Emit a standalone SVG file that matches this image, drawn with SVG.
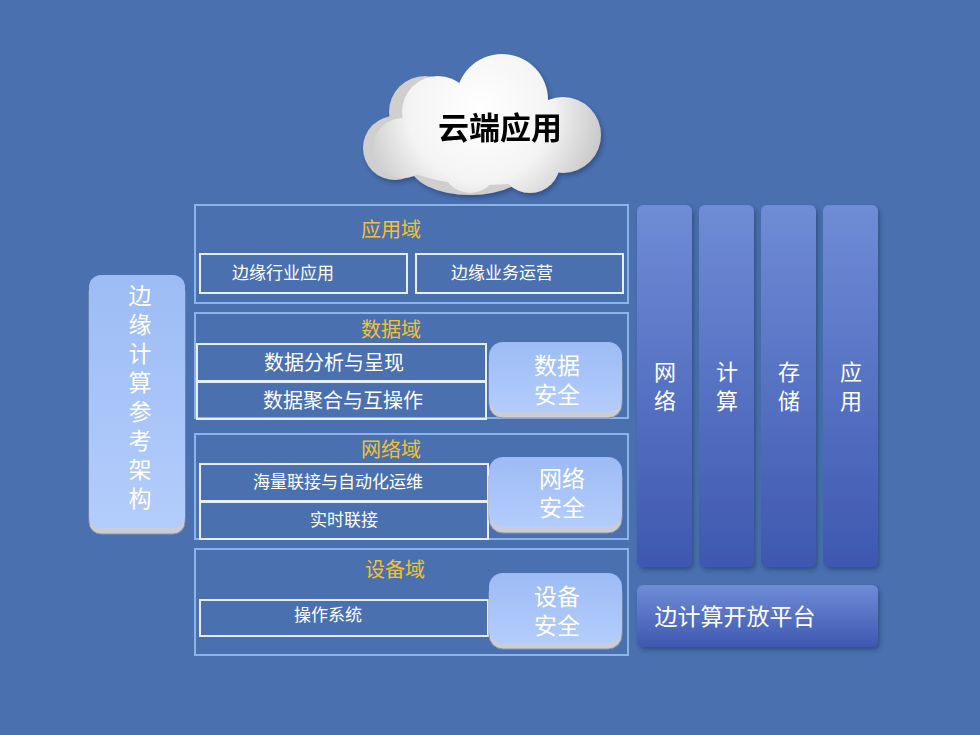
<svg xmlns="http://www.w3.org/2000/svg" width="980" height="735" viewBox="0 0 980 735">
<defs>
<linearGradient id="col" x1="0" y1="0" x2="0" y2="1"><stop offset="0" stop-color="#6F8CD6"/><stop offset="1" stop-color="#3E58B0"/></linearGradient>
<linearGradient id="pill" x1="0" y1="0" x2="0" y2="1"><stop offset="0" stop-color="#9DBCF5"/><stop offset="1" stop-color="#B3CCFB"/></linearGradient>
<radialGradient id="cl" gradientUnits="userSpaceOnUse" cx="480" cy="110" r="130"><stop offset="0" stop-color="#FFFFFF"/><stop offset="0.55" stop-color="#F4F4F4"/><stop offset="1" stop-color="#C4C4C4"/></radialGradient>
<filter id="sh" x="-10%" y="-10%" width="130%" height="130%"><feDropShadow dx="2" dy="3" stdDeviation="2" flood-color="#1D2F60" flood-opacity="0.5"/></filter>
</defs>
<style>
.frame{fill:none;stroke:#8AB4EA;stroke-width:2}
.box{fill:none;stroke:#E6EEFA;stroke-width:2}
.ttl{font-family:"Noto Sans CJK SC",sans-serif;font-size:20px;fill:#F5C030;text-anchor:middle}
.t{font-family:"Noto Sans CJK SC",sans-serif;fill:#FFFFFF;text-anchor:middle}
.pt{font-family:"Noto Sans CJK SC",sans-serif;font-size:23px;fill:#FFFFFF;text-anchor:middle}
.base{fill:#C8CDD8;stroke:#8A93A8;stroke-width:1}
</style>
<rect width="980" height="735" fill="#4A70B0"/>
<g id="cloud" filter="url(#sh)">
<g fill="#CFCFCF">
<circle cx="395" cy="148" r="32"/><circle cx="425" cy="112" r="36"/><ellipse cx="470" cy="165" rx="60" ry="30"/>
</g>
<g fill="url(#cl)">
<circle cx="403" cy="148" r="30"/><circle cx="438" cy="112" r="36"/><circle cx="502" cy="100" r="46"/><circle cx="563" cy="135" r="38"/>
<ellipse cx="485" cy="145" rx="100" ry="40"/><circle cx="470" cy="165" r="28"/><circle cx="530" cy="163" r="30"/>
</g>
<text x="500" y="139" font-family="Noto Sans CJK SC,sans-serif" font-size="31" font-weight="bold" fill="#000" text-anchor="middle">云端应用</text>
</g>
<g id="left">
<rect x="89" y="280" width="96" height="254" rx="12" class="base"/>
<rect x="89" y="275" width="96" height="253" rx="12" fill="url(#pill)"/>
<text class="t" font-size="23"><tspan x="140" y="304">边</tspan><tspan x="140" y="333">缘</tspan><tspan x="140" y="362">计</tspan><tspan x="140" y="391">算</tspan><tspan x="140" y="420">参</tspan><tspan x="140" y="449">考</tspan><tspan x="140" y="478">架</tspan><tspan x="140" y="507">构</tspan></text>
</g>
<g id="app">
<rect x="195" y="205" width="433" height="98" class="frame"/>
<text x="391" y="237" class="ttl">应用域</text>
<rect x="200" y="254" width="207" height="39" class="box"/><text x="283" y="279" class="t" font-size="17">边缘行业应用</text>
<rect x="416" y="254" width="207" height="39" class="box"/><text x="502" y="279" class="t" font-size="17">边缘业务运营</text>
</g>
<g id="data">
<rect x="195" y="313" width="433" height="105" class="frame"/>
<text x="391" y="337" class="ttl">数据域</text>
<rect x="197" y="344" width="289" height="37" class="box"/><text x="334" y="370" class="t" font-size="20">数据分析与呈现</text>
<rect x="197" y="382" width="289" height="37" class="box"/><text x="343" y="408" class="t" font-size="20">数据聚合与互操作</text>
<rect x="489" y="348" width="133" height="70" rx="14" class="base"/>
<rect x="489" y="342" width="133" height="70" rx="14" fill="url(#pill)"/>
<text class="pt"><tspan x="557" y="374">数据</tspan><tspan x="557" y="403">安全</tspan></text>
</g>
<g id="net">
<rect x="195" y="434" width="433" height="105" class="frame"/>
<text x="391" y="457" class="ttl">网络域</text>
<rect x="200" y="464" width="288" height="37" class="box"/><text x="338" y="488" class="t" font-size="17">海量联接与自动化运维</text>
<rect x="200" y="502" width="288" height="37" class="box"/><text x="344" y="526" class="t" font-size="17">实时联接</text>
<rect x="489" y="463" width="133" height="70" rx="14" class="base"/>
<rect x="489" y="457" width="133" height="70" rx="14" fill="url(#pill)"/>
<text class="pt"><tspan x="562" y="487">网络</tspan><tspan x="562" y="516">安全</tspan></text>
</g>
<g id="dev">
<rect x="195" y="549" width="433" height="106" class="frame"/>
<text x="395" y="577" class="ttl">设备域</text>
<rect x="200" y="600" width="288" height="36" class="box"/><text x="328" y="621" class="t" font-size="17">操作系统</text>
<rect x="489" y="579" width="133" height="70" rx="14" class="base"/>
<rect x="489" y="573" width="133" height="70" rx="14" fill="url(#pill)"/>
<text class="pt"><tspan x="557" y="605">设备</tspan><tspan x="557" y="634">安全</tspan></text>
</g>
<g id="cols" filter="url(#sh)">
<rect x="637" y="205" width="55" height="362" rx="6" fill="url(#col)"/>
<rect x="699" y="205" width="55" height="362" rx="6" fill="url(#col)"/>
<rect x="761" y="205" width="55" height="362" rx="6" fill="url(#col)"/>
<rect x="823" y="205" width="55" height="362" rx="6" fill="url(#col)"/>
<rect x="637" y="585" width="241" height="62" rx="6" fill="url(#col)"/>
</g>
<g id="coltext" class="t" font-size="22">
<text x="665" y="380">网</text><text x="665" y="409">络</text>
<text x="727" y="380">计</text><text x="727" y="409">算</text>
<text x="789" y="380">存</text><text x="789" y="409">储</text>
<text x="851" y="380">应</text><text x="851" y="409">用</text>
<text x="735" y="625" font-size="23">边计算开放平台</text>
</g>
<g id="connectors"/>
</svg>
